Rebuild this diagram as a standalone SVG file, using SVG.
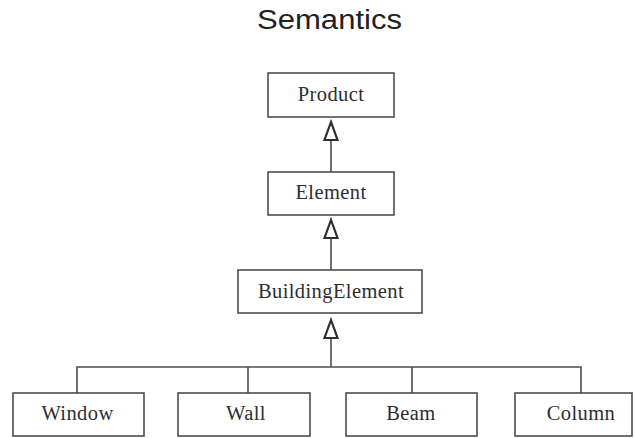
<svg xmlns="http://www.w3.org/2000/svg" width="635" height="438" viewBox="0 0 635 438">
  <defs>
    <style>
      .box rect { fill: #ffffff; stroke: #4d4d4d; stroke-width: 1.6; }
      .box text { font-family: "Liberation Serif", "Times New Roman", serif; font-size: 20.5px; letter-spacing: 0.4px; fill: #2e2e2e; text-anchor: middle; }
      .edge { fill: none; stroke: #4d4d4d; stroke-width: 1.6; }
      .head { fill: #ffffff; stroke: #2e2e2e; stroke-width: 2.2; stroke-linejoin: miter; }
      .title { font-family: "Liberation Sans", Arial, sans-serif; font-size: 27px; fill: #222222; text-anchor: middle; }
    </style>
  </defs>

  <rect x="0" y="0" width="635" height="438" fill="#ffffff"/>

  <text class="title" x="329.5" y="29" textLength="145" lengthAdjust="spacingAndGlyphs">Semantics</text>

  <!-- generalization connectors -->
  <g id="connectors">
    <path class="edge" d="M331 140 V172"/>
    <path class="edge" d="M331 238 V270"/>
    <path class="edge" d="M331 338 V367"/>
    <path class="edge" d="M77 393 V367 H581 V393"/>
    <path class="edge" d="M248 367 V393"/>
    <path class="edge" d="M412 367 V393"/>
    <polygon class="head" points="331,122 324.5,140 337.5,140"/>
    <polygon class="head" points="331,220 324.5,238 337.5,238"/>
    <polygon class="head" points="331,320 324.5,338 337.5,338"/>
  </g>

  <g id="product" class="box">
    <rect x="268" y="73" width="126" height="44"/>
    <text x="331" y="101">Product</text>
  </g>

  <g id="element" class="box">
    <rect x="268" y="172" width="126" height="43"/>
    <text x="331" y="199">Element</text>
  </g>

  <g id="building-element" class="box">
    <rect x="238" y="270" width="184" height="43"/>
    <text x="331" y="297.5">BuildingElement</text>
  </g>

  <g id="window" class="box">
    <rect x="13" y="393" width="131" height="43"/>
    <text x="77.5" y="420">Window</text>
  </g>

  <g id="wall" class="box">
    <rect x="178" y="393" width="132" height="43"/>
    <text x="246" y="420">Wall</text>
  </g>

  <g id="beam" class="box">
    <rect x="346" y="393" width="131" height="43"/>
    <text x="411" y="420">Beam</text>
  </g>

  <g id="column" class="box">
    <rect x="515" y="393" width="117" height="43"/>
    <text x="581" y="420">Column</text>
  </g>
</svg>
